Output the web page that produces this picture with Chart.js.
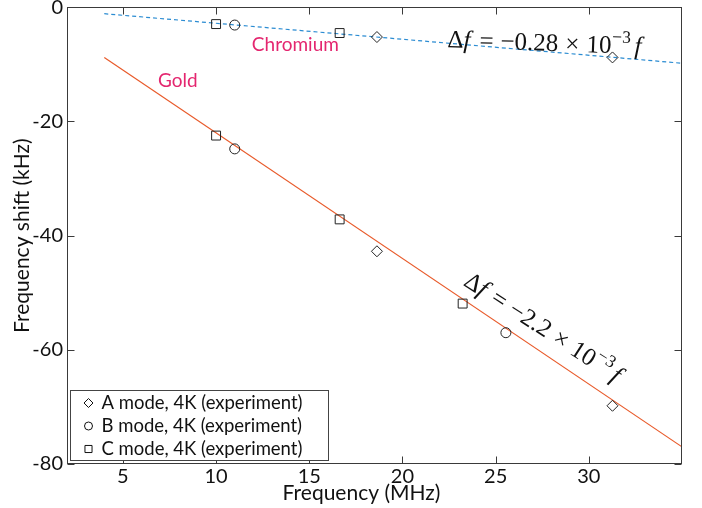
<!DOCTYPE html>
<html><head><meta charset="utf-8">
<script src="https://cdn.jsdelivr.net/npm/chart.js@4.4.0/dist/chart.umd.min.js"></script>
<style>html,body{margin:0;padding:0;background:#fff}#wrap{width:702px;height:508px}</style>
</head><body><div id="wrap"><canvas id="c" width="702" height="508"></canvas></div>
<script>
// ---- data ----
const xTicks = [5, 10, 15, 20, 25, 30];
const yTicks = [0, -20, -40, -60, -80];
const fitFreq = [4, 35];
const chromiumFit = [-1.12, -9.8];
const goldFit = [-8.8, -77];
const modeAFreq  = [18.63, 31.27, 18.63, 31.27];
const modeAShift = [-5.21, -8.78, -42.74, -69.8];
const modeBFreq  = [11.0, 11.0, 25.55];
const modeBShift = [-3.11, -24.8, -57.0];
const modeCFreq  = [10, 16.63, 10, 16.63, 23.23];
const modeCShift = [-2.94, -4.51, -22.47, -37.15, -51.9];
const seriesLabels = ['A mode, 4K (experiment)', 'B mode, 4K (experiment)', 'C mode, 4K (experiment)'];
const xTitle = 'Frequency (MHz)';

const pts = (xs, ys) => xs.map((v, i) => ({x: v, y: ys[i]}));
const SANS = 'Lato, "Noto Sans", sans-serif';
const SERIF = '"Liberation Serif", "DejaVu Serif", serif';
const AXIS = '#3a3a3a';

function drawEq(ctx, x0, y0, ang, size, coef) {
  ctx.save();
  ctx.translate(x0, y0);
  ctx.rotate(ang);
  const up = size + 'px ' + SERIF, it = 'italic ' + size + 'px ' + SERIF, sup = (size * 0.7) + 'px ' + SERIF;
  const parts = [['\u0394', up, 0, 0], ['f', it, 0, 9], ['=', up, 0, 7], ['\u2212' + coef, up, 0, 7], ['\u00d7', up, 0, 7], ['10', up, 0, 0.5], ['\u22123', sup, -size * 0.42, 4], ['f', it, 0, 0]];
  let cx = 0;
  ctx.textBaseline = 'alphabetic';
  ctx.fillStyle = '#111';
  for (const [t, f, dy, gap] of parts) { ctx.font = f; ctx.fillText(t, cx, dy); cx += ctx.measureText(t).width + gap; }
  ctx.restore();
}

const decor = {
  id: 'decor',
  afterDraw(chart) {
    const {ctx, chartArea: a, scales: {x, y}} = chart;
    ctx.save();
    // frame + inward ticks
    ctx.strokeStyle = AXIS; ctx.lineWidth = 1;
    const L = Math.round(a.left) + 0.5, R = Math.round(a.right) - 0.5, T = Math.round(a.top) + 0.5, B = Math.round(a.bottom) - 0.5;
    ctx.strokeRect(L, T, R - L, B - T);
    ctx.beginPath();
    for (const t of xTicks) { const px = Math.round(x.getPixelForValue(t)) + 0.5; ctx.moveTo(px, B); ctx.lineTo(px, B - 7); ctx.moveTo(px, T); ctx.lineTo(px, T + 7); }
    for (const t of yTicks) { const py = Math.round(y.getPixelForValue(t)) + 0.5; ctx.moveTo(L, py); ctx.lineTo(L + 7, py); ctx.moveTo(R, py); ctx.lineTo(R - 7, py); }
    ctx.stroke();

    // x axis title (slightly left of centre, as in the reference)
    ctx.fillStyle = '#111';
    ctx.font = '21px ' + SANS;
    ctx.textAlign = 'center'; ctx.textBaseline = 'middle';
    ctx.fillText(xTitle, (a.left + a.right) / 2 - 13, 493);

    // material labels
    ctx.fillStyle = '#e4266f';
    ctx.font = '19px ' + SANS;
    ctx.textBaseline = 'middle'; ctx.textAlign = 'left';
    ctx.fillText('Chromium', x.getPixelForValue(11.92), y.getPixelForValue(-6.56));
    ctx.fillText('Gold', x.getPixelForValue(6.88), y.getPixelForValue(-12.85));

    // equations
    const angG = Math.atan2(y.getPixelForValue(goldFit[1]) - y.getPixelForValue(goldFit[0]), x.getPixelForValue(fitFreq[1]) - x.getPixelForValue(fitFreq[0]));
    drawEq(ctx, x.getPixelForValue(22.4), y.getPixelForValue(-7.0), 0.035, 25, '0.28');
    drawEq(ctx, x.getPixelForValue(23.22), y.getPixelForValue(-48.6), angG - 0.02, 25, '2.2');

    // legend
    const lx = Math.round(a.left) + 3.5, ly = 390.5, lw = 258, lh = 70;
    ctx.fillStyle = '#fff';
    ctx.fillRect(lx, ly, lw, lh);
    ctx.strokeStyle = '#444';
    ctx.strokeRect(lx, ly, lw, lh);
    const rows = chart.data.datasets.filter(d => d.legendRow !== undefined);
    ctx.textBaseline = 'middle';
    rows.forEach(d => {
      const cy = ly + 12.5 + d.legendRow * 23;
      ctx.fillStyle = 'rgba(0,0,0,0)'; ctx.strokeStyle = '#111'; ctx.lineWidth = 1;
      Chart.helpers.drawPoint(ctx, {pointStyle: d.pointStyle, radius: d.legendRadius, rotation: 0, borderWidth: 1}, lx + 18, cy);
      ctx.font = '18.5px ' + SANS; ctx.fillStyle = '#111';
      ctx.fillText(d.label, lx + 31, cy);
    });
    ctx.restore();
  }
};

const markerCommon = {showLine: false, borderColor: '#222', backgroundColor: 'rgba(0,0,0,0)', borderWidth: 1, pointBorderWidth: 1, pointHoverRadius: 6};

new Chart(document.getElementById('c'), {
  type: 'scatter',
  data: {
    datasets: [
      Object.assign({label: seriesLabels[0], data: pts(modeAFreq, modeAShift), pointStyle: 'rectRot', pointRadius: 5.5, legendRow: 0, legendRadius: 4.5}, markerCommon),
      Object.assign({label: seriesLabels[1], data: pts(modeBFreq, modeBShift), pointStyle: 'circle', pointRadius: 5, legendRow: 1, legendRadius: 4}, markerCommon),
      Object.assign({label: seriesLabels[2], data: pts(modeCFreq, modeCShift), pointStyle: 'rect', pointRadius: 6.3, legendRow: 2, legendRadius: 5}, markerCommon),
      {label: 'Chromium fit', data: pts(fitFreq, chromiumFit), showLine: true, pointRadius: 0, borderColor: '#2b8cd2', borderWidth: 1.2, borderDash: [4, 3], fill: false},
      {label: 'Gold fit', data: pts(fitFreq, goldFit), showLine: true, pointRadius: 0, borderColor: '#e85a2a', borderWidth: 1.2, fill: false}
    ]
  },
  options: {
    responsive: false,
    animation: false,
    events: [],
    layout: {padding: {left: 0, top: 6, right: 20, bottom: 0}},
    plugins: {legend: {display: false}, tooltip: {enabled: false}},
    scales: {
      x: {
        type: 'linear', min: 2, max: 35,
        afterBuildTicks: s => { s.ticks = xTicks.map(v => ({value: v})); },
        afterFit: s => { s.height = 44; s.paddingLeft = 0; s.paddingRight = 0; },
        grid: {display: false, drawTicks: false},
        border: {display: false},
        ticks: {color: '#111', font: {family: SANS, size: 20}, padding: 1, maxRotation: 0},
        title: {display: false, text: xTitle}
      },
      y: {
        type: 'linear', min: -80, max: 0,
        afterBuildTicks: s => { s.ticks = yTicks.map(v => ({value: v})); },
        afterFit: s => { s.width = 67; s.paddingTop = 0; s.paddingBottom = 0; },
        grid: {display: false, drawTicks: false},
        border: {display: false},
        ticks: {color: '#111', font: {family: SANS, size: 20}, padding: 4, callback: v => String(v)},
        title: {display: true, text: 'Frequency shift (kHz)', color: '#111', font: {family: SANS, size: 21}, padding: {top: 9.5, bottom: 0}}
      }
    }
  },
  plugins: [decor]
});
</script>
</body></html>
